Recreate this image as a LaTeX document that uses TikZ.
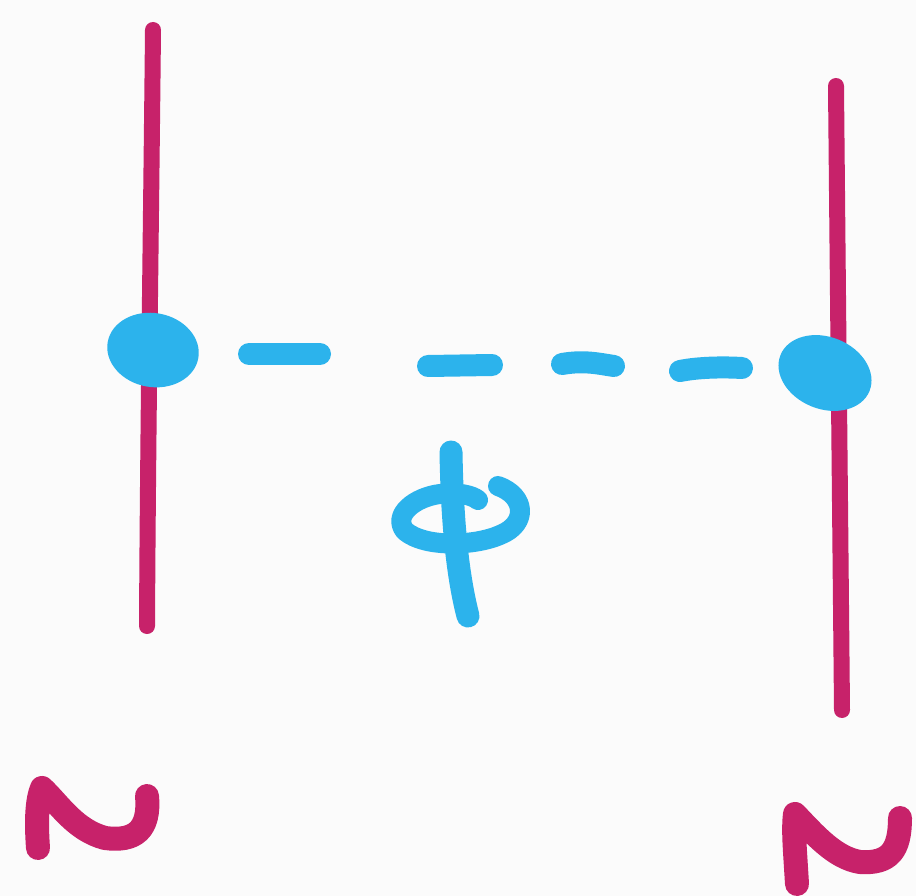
\documentclass[tikz,border=0pt]{standalone}
\definecolor{ink}{HTML}{C7226A}
\definecolor{sky}{HTML}{2CB3EC}
\definecolor{paper}{HTML}{FBFBFB}
\tikzset{
  pinkline/.style={draw=ink, line width=16pt, line cap=round, line join=round},
  bluestroke/.style={draw=sky, line width=23pt, line cap=round, line join=round},
  bluedash/.style={draw=sky, line width=22pt, line cap=round},
  bluedot/.style={fill=sky}
}
\begin{document}
\begin{tikzpicture}[x=1pt,y=-1pt]
\fill[paper] (0,0) rectangle (916,896);
\useasboundingbox (0,0) rectangle (916,896);
% vertical lines
\draw[pinkline] (153,30) .. controls (151,230) and (148,430) .. (147,626);
\draw[pinkline] (836,86) .. controls (838,300) and (840,500) .. (842,710);
% dots
\coordinate (L) at (153,350);
\coordinate (R) at (825,373);
\fill[bluedot, rotate around={-10:(L)}] (L) ellipse [x radius=46, y radius=37];
\fill[bluedot, rotate around={-22:(R)}] (R) ellipse [x radius=48, y radius=36];
% dashes
\draw[bluedash] (L) ++(96,4) coordinate (d1a) -- (320,354) coordinate (d1b);
\draw[bluedash] (428,366) coordinate (d2a) -- (492,365) coordinate (d2b);
\draw[bluedash] (562,364) coordinate (d3a) .. controls (585,360) and (600,364) .. (614,366) coordinate (d3b);
\draw[bluedash] (680,371) coordinate (d4a) .. controls (700,367) and (725,367) .. (742,368) coordinate (d4b);
% phi
\draw[bluestroke] (451,452) .. controls (452,510) and (456,570) .. (468,616);
\draw[bluestroke, line width=20pt] (498,486) .. controls (526,496) and (528,524) .. (500,535)
   .. controls (475,546) and (425,548) .. (405,531)
   .. controls (392,515) and (415,497) .. (440,494)
   .. controls (458,492) and (472,495) .. (478,500);
% labels
\draw[pinkline, line width=24pt] (38,848) .. controls (36,820) and (37,800) .. (42,788)
   .. controls (60,805) and (75,830) .. (105,838)
   .. controls (135,842) and (150,830) .. (147,796);
\draw[pinkline, line width=24pt] (797,884) .. controls (795,850) and (793,830) .. (795,814)
   .. controls (815,835) and (835,858) .. (860,862)
   .. controls (890,864) and (900,850) .. (900,818);
\end{tikzpicture}
\end{document}
